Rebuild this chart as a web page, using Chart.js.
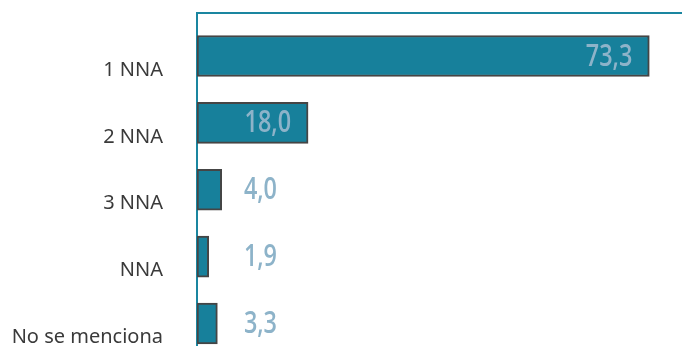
<!DOCTYPE html>
<html>
<head>
<meta charset="utf-8">
<script src="https://cdn.jsdelivr.net/npm/chart.js@4.4.1/dist/chart.umd.min.js"></script>
<style>
  html, body { margin: 0; padding: 0; background: #fff; overflow: hidden; }
</style>
</head>
<body>
<canvas id="myChart" width="682" height="346"></canvas>
<script>
const categories = ['1 NNA', '2 NNA', '3 NNA', 'NNA', 'No se menciona'];
const values = [73.3, 18.0, 4.0, 1.9, 3.3];

const teal = '#17809b';

// value labels, comma as decimal separator, squeezed to look condensed
const valueLabels = {
  id: 'valueLabels',
  afterDatasetsDraw(chart) {
    const ctx = chart.ctx;
    const area = chart.chartArea;
    const squeeze = 0.78;
    ctx.save();
    ctx.font = '600 30px "Open Sans"';
    ctx.fillStyle = '#8db3c9';
    ctx.textAlign = 'right';
    ctx.textBaseline = 'middle';
    chart.getDatasetMeta(0).data.forEach((bar, i) => {
      const x = Math.max(bar.x - 17, area.left + 80);
      ctx.save();
      ctx.translate(x, bar.y + 1);
      ctx.scale(squeeze, 1);
      ctx.fillText(values[i].toFixed(1).replace('.', ','), 0, 0);
      ctx.restore();
    });
    ctx.restore();
  }
};

new Chart(document.getElementById('myChart'), {
  type: 'bar',
  data: {
    datasets: [{
      data: values.map((v, i) => ({ x: v, y: i })),
      backgroundColor: teal,
      borderColor: '#454545',
      borderWidth: 2,
      borderSkipped: false,
      barThickness: 41
    }]
  },
  options: {
    indexAxis: 'y',
    responsive: false,
    animation: false,
    layout: { padding: { top: 13, right: 0, bottom: 0, left: 0 } },
    plugins: { legend: { display: false }, tooltip: { enabled: false } },
    scales: {
      x: {
        type: 'linear',
        position: 'top',
        min: 0,
        max: 78.6,
        afterFit: (scale) => { scale.height = 0; },
        grid: { display: false, drawTicks: false },
        ticks: { display: false },
        border: { display: true, color: '#1a86a0', width: 2 }
      },
      y: {
        type: 'linear',
        reverse: true,
        offset: false,
        min: -0.643,
        max: 4.336,
        afterBuildTicks: (scale) => { scale.ticks = categories.map((c, i) => ({ value: i })); },
        afterFit: (scale) => { scale.paddingTop = 0; scale.paddingBottom = 0; scale.width = 197; },
        grid: { display: false, drawTicks: false },
        border: { display: true, color: '#1a86a0', width: 2 },
        ticks: {
          padding: 34,
          labelOffset: 14,
          color: '#3a3a3a',
          font: { family: 'Noto Sans', size: 20 },
          callback: (v) => categories[v]
        }
      }
    }
  },
  plugins: [valueLabels]
});
</script>
</body>
</html>
